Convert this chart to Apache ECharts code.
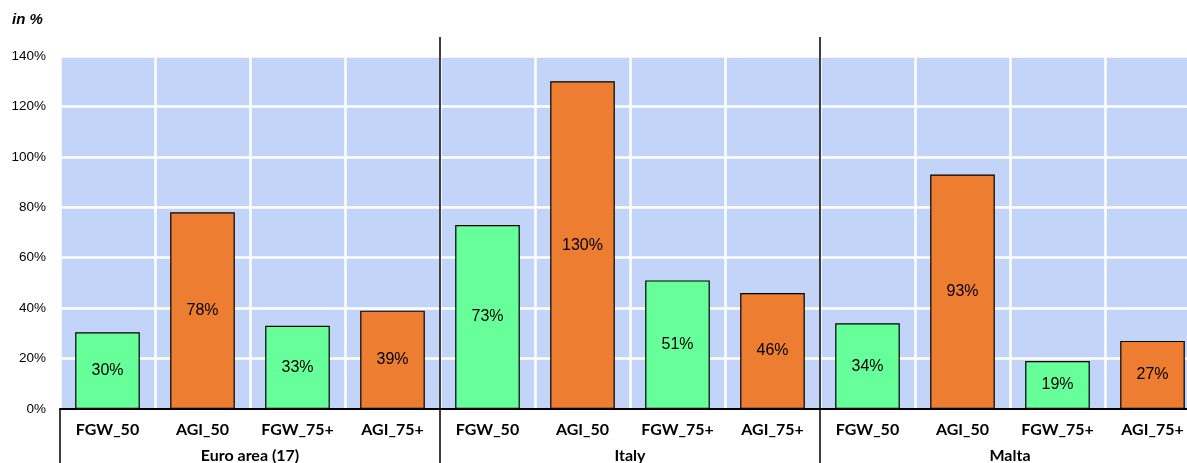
<!DOCTYPE html>
<html><head><meta charset="utf-8">
<script src="https://cdn.jsdelivr.net/npm/echarts@6/dist/echarts.min.js"></script>
<style>html,body{margin:0;padding:0;background:#fff;}#c{width:1187px;height:463px;}</style>
</head><body><div id="c"></div>
<script>
const groups = ['Euro area (17)', 'Italy', 'Malta'];
const categories = ['FGW_50','AGI_50','FGW_75+','AGI_75+','FGW_50','AGI_50','FGW_75+','AGI_75+','FGW_50','AGI_50','FGW_75+','AGI_75+'];
const values = [30.4, 78, 33, 39, 73, 130, 51, 46, 34, 93, 19, 27];
const yTicks = [0, 20, 40, 60, 80, 100, 120, 140];

const chart = echarts.init(document.getElementById('c'), null, {renderer: 'canvas'});
const gridBox = {left: 60, top: 56, width: 1140, height: 353};
const option = {
  animation: false,
  grid: Object.assign({show: true, backgroundColor: '#C2D4F8', borderWidth: 0, outerBoundsMode: 'none', containLabel: false}, gridBox),
  graphic: [{type: 'text', left: 12, top: 12, style: {text: 'in %', font: 'italic bold 15px "Liberation Sans"', fill: '#000'}}],
  xAxis: [
    {type: 'category', data: categories, position: 'bottom',
     axisLine: {show: true, lineStyle: {color: '#000', width: 2}},
     axisTick: {show: false},
     splitLine: {show: true, interval: 0, lineStyle: {color: '#fff', width: 2.5}},
     axisLabel: {interval: 0, margin: 13, color: '#000', fontFamily: 'Lato', fontWeight: 'bold', fontSize: 16}},
    {type: 'category', data: groups, position: 'bottom', offset: 0,
     axisLine: {show: false},
     axisTick: {show: true, length: 54, lineStyle: {color: '#000', width: 1.5}},
     splitLine: {show: true, interval: (i) => i > 0, lineStyle: {color: '#000', width: 1.5}},
     axisLabel: {interval: 0, margin: 39, color: '#000', fontFamily: 'Lato', fontWeight: 'bold', fontSize: 16}},
    {type: 'category', data: groups, position: 'top',
     axisLine: {show: false},
     axisTick: {show: true, length: 19, interval: (i) => i > 0, lineStyle: {color: '#000', width: 1.5}},
     axisLabel: {show: false}}
  ],
  yAxis: {type: 'value', min: 0, max: 140, interval: 20,
    axisLine: {show: false}, axisTick: {show: false},
    splitLine: {show: true, lineStyle: {color: '#fff', width: 2.5}},
    axisLabel: {margin: 14, color: '#000', fontFamily: 'Liberation Sans', fontSize: 13.5,
      formatter: (v) => yTicks.includes(v) ? v + '%' : ''}},
  series: [{
    type: 'bar', xAxisIndex: 0, barWidth: '68%',
    data: values.map((v, i) => ({value: v, itemStyle: {color: categories[i].startsWith('FGW') ? '#66FF99' : '#ED7D31'}})),
    itemStyle: {borderColor: '#000', borderWidth: 1.2},
    label: {show: true, position: 'inside', color: '#000', fontFamily: 'Liberation Sans', fontSize: 16,
      formatter: (p) => Math.round(p.value) + '%'}
  }]
};
chart.setOption(option);
</script></body></html>
